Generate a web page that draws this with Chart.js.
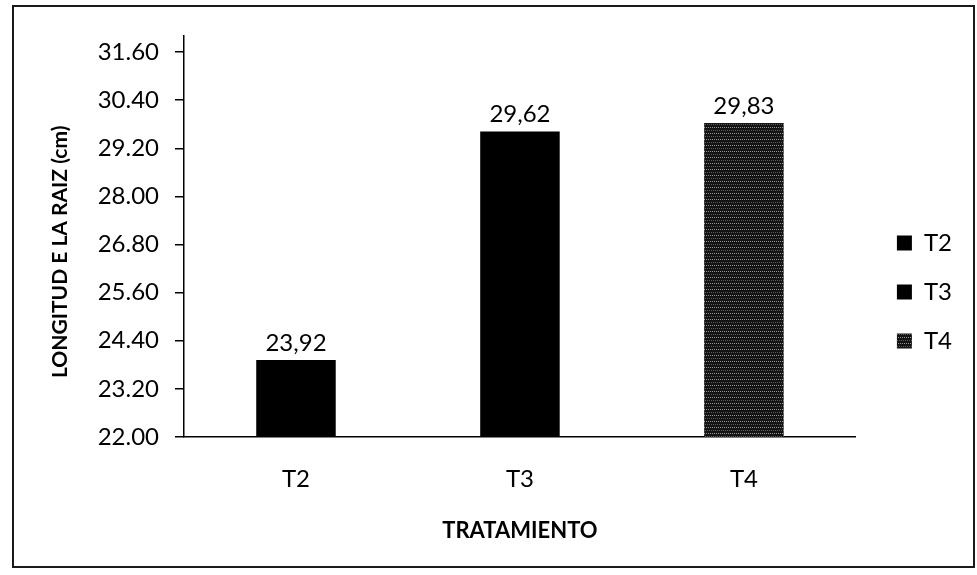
<!DOCTYPE html>
<html>
<head>
<meta charset="utf-8">
<script src="https://cdn.jsdelivr.net/npm/chart.js@4/dist/chart.umd.min.js"></script>
<style>
  html, body { margin: 0; padding: 0; background: #fff; }
  #wrap { position: relative; width: 977px; height: 575px; }
  #frame {
    position: absolute; left: 12px; top: 5px; width: 963px; height: 563px;
    box-sizing: border-box; border: 2px solid #1a1a1a; pointer-events: none;
  }
</style>
</head>
<body>
<div id="wrap">
  <canvas id="chart"></canvas>
  <div id="frame"></div>
</div>
<script>
// data
const categories = ['T2', 'T3', 'T4'];
const rootLength = [23.92, 29.62, 29.83];
const yTicks = [22.0, 23.2, 24.4, 25.6, 26.8, 28.0, 29.2, 30.4, 31.6];

// speckled fill for the T4 bar
function makeSpeckle() {
  const c = document.createElement('canvas');
  c.width = 6; c.height = 6;
  const g = c.getContext('2d');
  g.fillStyle = '#141414';
  g.fillRect(0, 0, 6, 6);
  g.fillStyle = 'rgba(255,255,255,0.55)';
  [0, 2, 4].forEach(x => g.fillRect(x, 1, 1, 1));
  g.fillStyle = 'rgba(255,255,255,0.3)';
  [1, 3, 5].forEach(x => g.fillRect(x, 4, 1, 1));
  return g.createPattern(c, 'repeat');
}

const speckle = makeSpeckle();
const barColors = ['#000000', '#000000', speckle];

// value labels above each bar, decimal comma
const valueLabels = {
  id: 'valueLabels',
  afterDatasetsDraw(chart) {
    const { ctx } = chart;
    const meta = chart.getDatasetMeta(0);
    ctx.save();
    ctx.font = '24px Lato';
    ctx.fillStyle = '#000';
    ctx.textAlign = 'center';
    ctx.textBaseline = 'alphabetic';
    meta.data.forEach((bar, i) => {
      const txt = rootLength[i].toFixed(2).replace('.', ',');
      ctx.fillText(txt, bar.x, bar.y - 9);
    });
    ctx.restore();
  }
};

// nudge the legend a bit away from the plot
const legendShift = {
  id: 'legendShift',
  afterLayout(chart) {
    chart.legend.left += 16;
    chart.legend.right += 16;
  }
};

const ctx = document.getElementById('chart').getContext('2d');
new Chart(ctx, {
  type: 'bar',
  data: {
    labels: categories,
    datasets: [{
      data: rootLength,
      backgroundColor: barColors,
      borderWidth: 0,
      categoryPercentage: 1,
      barPercentage: 0.355
    }]
  },
  options: {
    responsive: true,
    maintainAspectRatio: false,
    animation: false,
    layout: { padding: { left: 0, top: 36, right: 31, bottom: 27 } },
    plugins: {
      tooltip: { enabled: false },
      legend: {
        position: 'right',
        labels: {
          color: '#000',
          font: { family: 'Lato', size: 24 },
          boxWidth: 15,
          boxHeight: 15,
          padding: 25,
          generateLabels: () => categories.map((c, i) => ({
            text: c,
            fillStyle: barColors[i],
            strokeStyle: '#000',
            lineWidth: 0,
            index: i
          }))
        }
      }
    },
    scales: {
      x: {
        grid: { display: false },
        border: { display: true, color: '#000', width: 1.5 },
        ticks: {
          color: '#000',
          font: { family: 'Lato', size: 24 },
          padding: 20
        },
        title: {
          display: true,
          text: 'TRATAMIENTO',
          color: '#000',
          font: { family: 'Lato', size: 22, weight: 'bold' },
          padding: { top: 0, bottom: 4 }
        },
        afterFit(scale) { scale.height = 111; }
      },
      y: {
        min: 22,
        max: 32,
        afterBuildTicks(scale) {
          scale.ticks = yTicks.map(v => ({ value: v }));
        },
        grid: {
          display: true,
          drawOnChartArea: false,
          drawTicks: true,
          tickLength: 9,
          color: '#000',
          lineWidth: 1.5
        },
        border: { display: true, color: '#000', width: 1.5 },
        ticks: {
          color: '#000',
          font: { family: 'Lato', size: 24 },
          padding: 16,
          callback: v => Number(v).toFixed(2)
        },
        title: {
          display: true,
          // trailing spaces push the centred title down to where the original sits
          text: 'LONGITUD E LA RAIZ (cm)      ',
          color: '#000',
          font: { family: 'Lato', size: 21, weight: 'bold' },
          padding: { top: 48, bottom: 0 }
        },
        afterFit(scale) { scale.width = 184; }
      }
    }
  },
  plugins: [valueLabels, legendShift]
});
</script>
</body>
</html>
